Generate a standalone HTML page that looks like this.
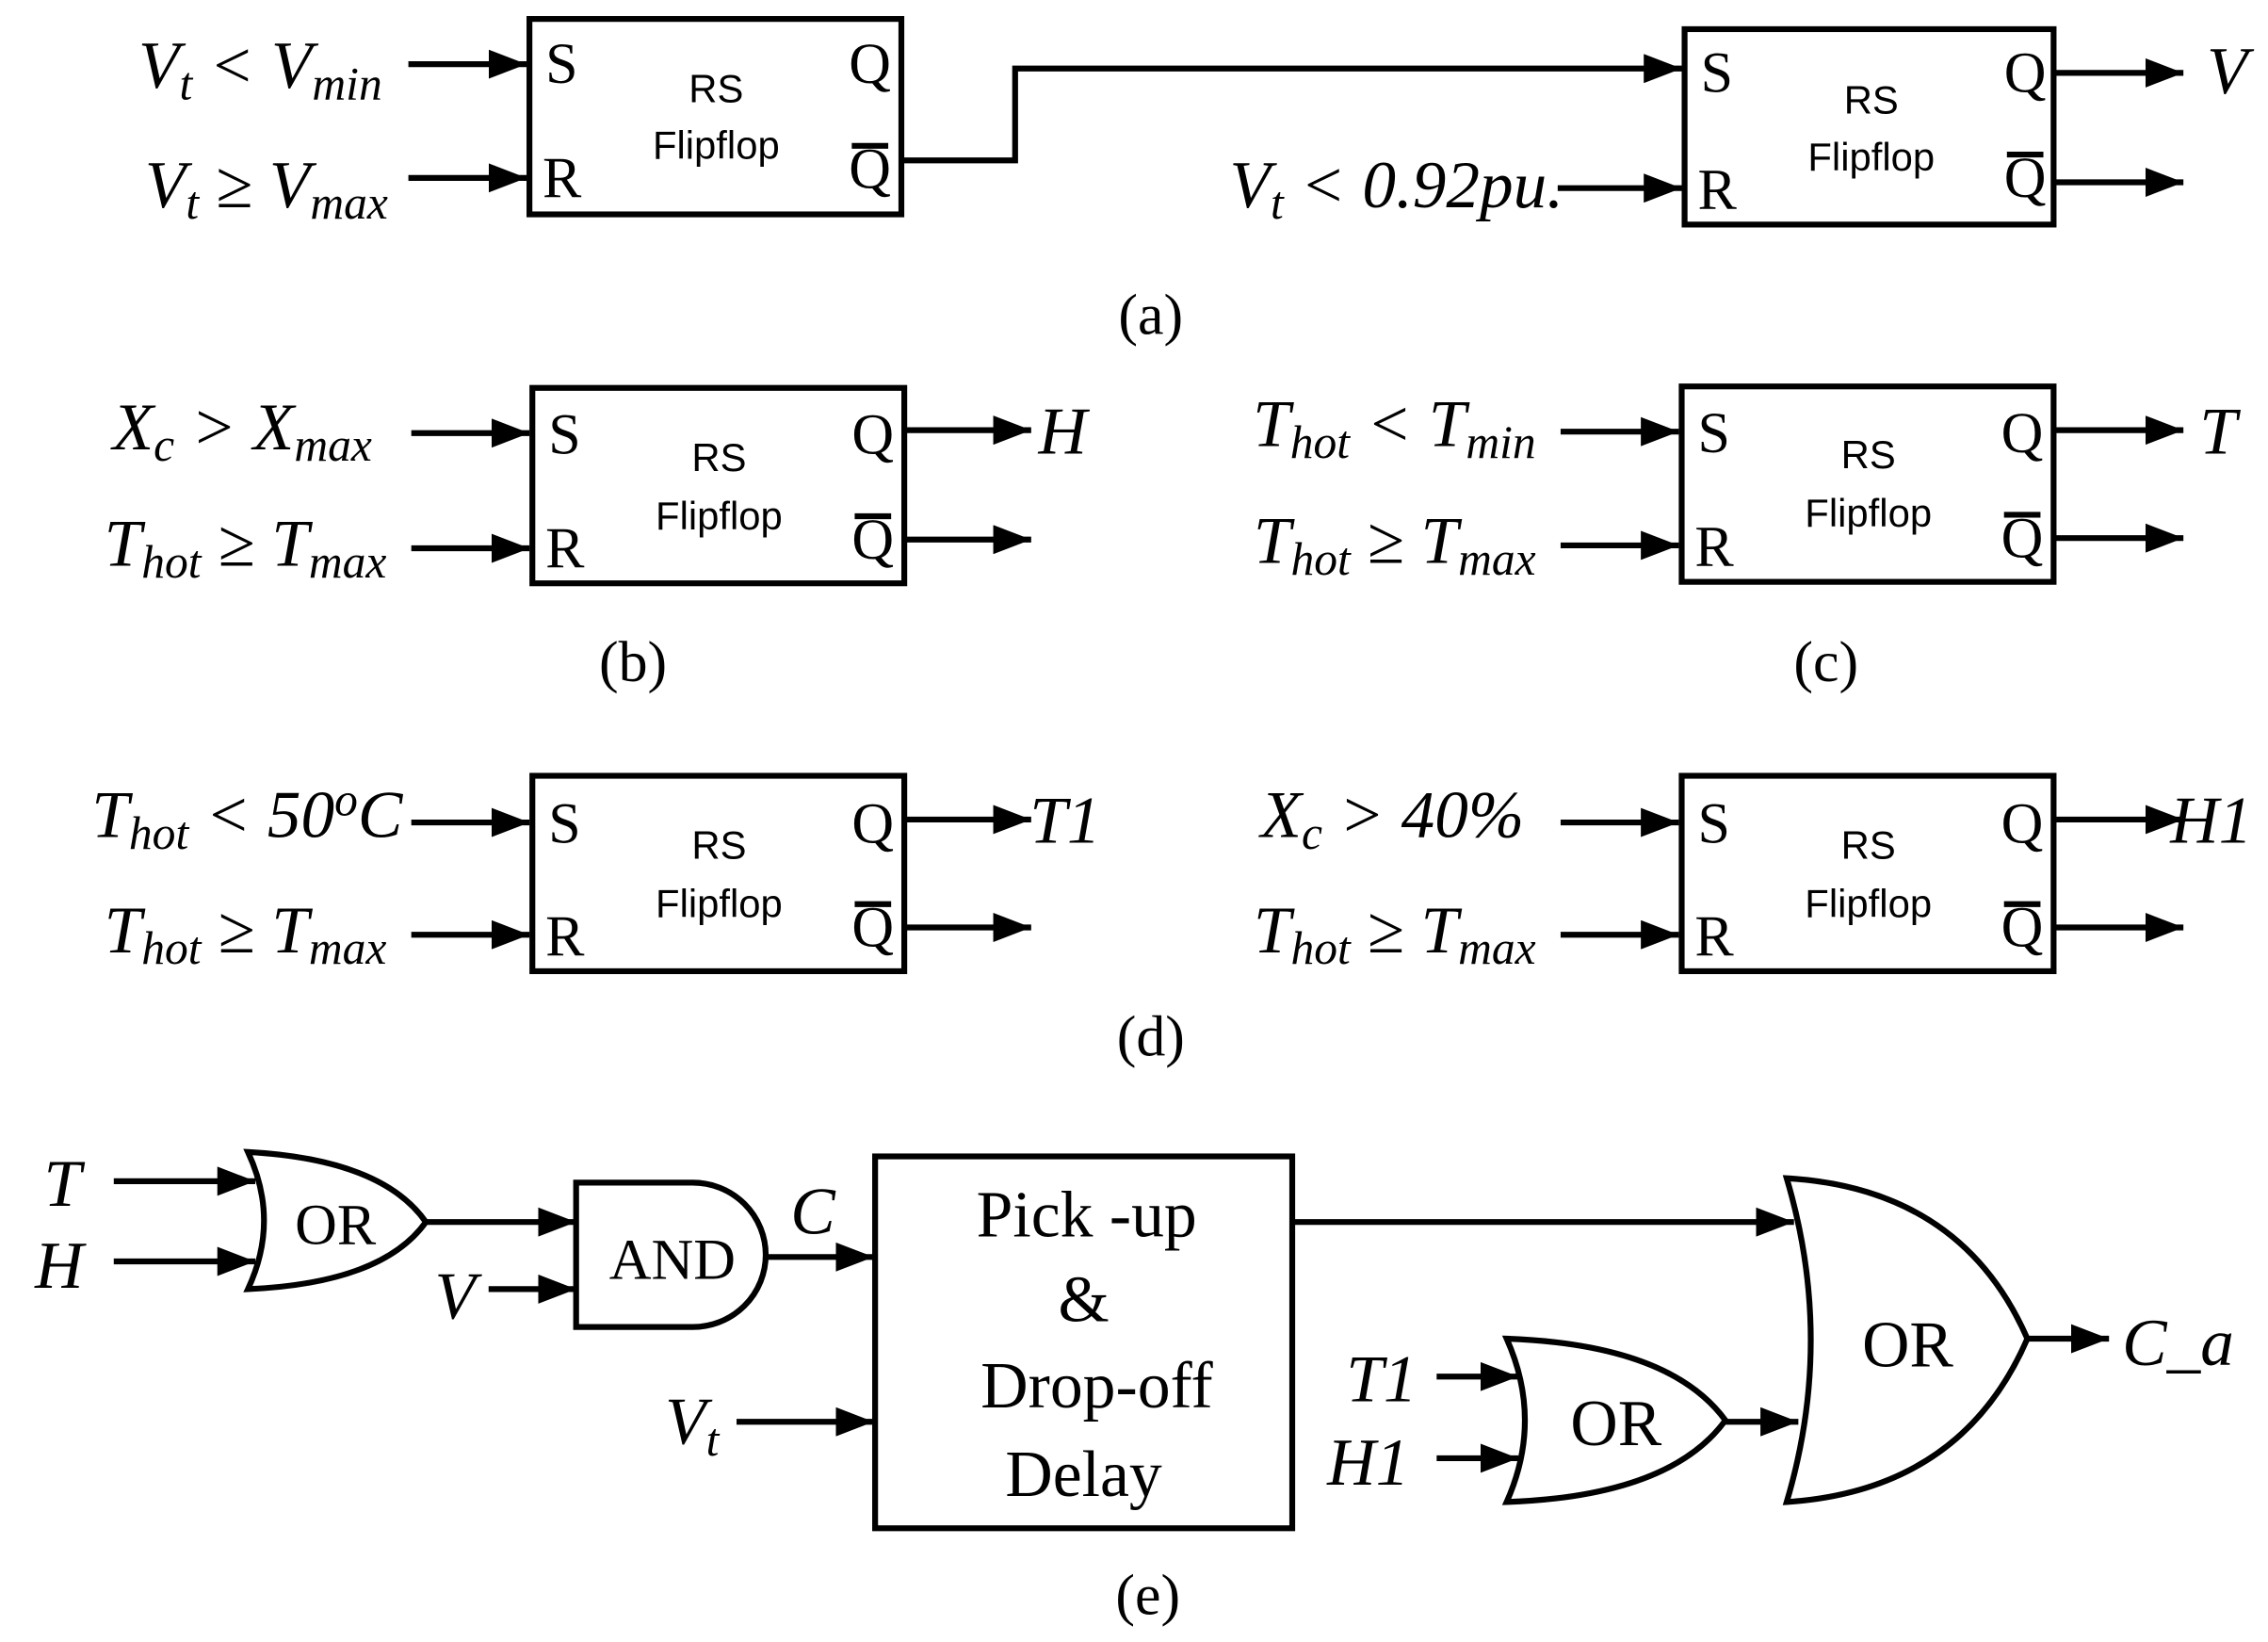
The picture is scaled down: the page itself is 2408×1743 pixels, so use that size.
<!DOCTYPE html>
<html><head><meta charset="utf-8"><style>
html,body{margin:0;padding:0;background:#fff;}
svg{display:block;}
.it{font-family:"Liberation Serif",serif;font-style:italic;font-size:46px;}
.sb{font-size:32px;}
.rm{font-family:"Liberation Serif",serif;font-size:40px;}
.ss{font-family:"Liberation Sans",sans-serif;font-size:27px;}
.bx{fill:none;stroke:#000;stroke-width:4;}
.ln{stroke:#000;stroke-width:4;fill:none;}
</style></head><body>
<svg width="2408" height="1743" viewBox="0 0 1555 1126" preserveAspectRatio="none" xmlns="http://www.w3.org/2000/svg">
<defs>
<marker id="a" markerWidth="26" markerHeight="20" refX="26" refY="10" orient="auto" markerUnits="userSpaceOnUse"><path d="M0,0 L26,10 L0,20z"/></marker></defs>

<!-- (a) -->
<rect class="bx" x="363" y="13" width="255" height="134"/>
<text class="rm" x="374" y="57">S</text><text class="rm" x="372" y="135">R</text>
<text class="rm" x="582" y="57">Q</text><text class="rm" x="582" y="129">Q</text><line class="ln" x1="584" y1="100" x2="609" y2="100" stroke-width="2"/>
<text class="ss" x="491" y="70" text-anchor="middle">RS</text><text class="ss" x="491" y="109" text-anchor="middle">Flipflop</text>
<line class="ln" x1="280" y1="44" x2="361" y2="44" marker-end="url(#a)"/>
<line class="ln" x1="280" y1="122" x2="361" y2="122" marker-end="url(#a)"/>
<text class="it" x="262" y="60" text-anchor="end">V<tspan class="sb" dy="8">t</tspan><tspan dy="-8"> &lt; V</tspan><tspan class="sb" dy="8">min</tspan></text>
<text class="it" x="266" y="142" text-anchor="end">V<tspan class="sb" dy="8">t</tspan><tspan dy="-8"> ≥ V</tspan><tspan class="sb" dy="8">max</tspan></text>
<polyline class="ln" points="618,110 696,110 696,47 1153,47" marker-end="url(#a)"/>
<rect class="bx" x="1155" y="20" width="253" height="134"/>
<text class="rm" x="1166" y="63">S</text><text class="rm" x="1164" y="143">R</text>
<text class="rm" x="1374" y="63">Q</text><text class="rm" x="1374" y="135">Q</text><line class="ln" x1="1376" y1="106" x2="1401" y2="106" stroke-width="2"/>
<text class="ss" x="1283" y="78" text-anchor="middle">RS</text><text class="ss" x="1283" y="117" text-anchor="middle">Flipflop</text>
<line class="ln" x1="1408" y1="50" x2="1497" y2="50" marker-end="url(#a)"/>
<line class="ln" x1="1408" y1="125" x2="1497" y2="125" marker-end="url(#a)"/>
<text class="it" x="1513" y="64">V</text>
<line class="ln" x1="1068" y1="129" x2="1153" y2="129" marker-end="url(#a)"/>
<text class="it" x="1072" y="142" text-anchor="end">V<tspan class="sb" dy="8">t</tspan><tspan dy="-8"> &lt; 0.92pu.</tspan></text>
<text class="rm" x="789" y="229" text-anchor="middle">(a)</text>

<!-- (b) -->
<rect class="bx" x="365" y="266" width="255" height="134"/>
<text class="rm" x="376" y="311">S</text><text class="rm" x="374" y="389">R</text>
<text class="rm" x="584" y="311">Q</text><text class="rm" x="584" y="383">Q</text><line class="ln" x1="586" y1="354" x2="611" y2="354" stroke-width="2"/>
<text class="ss" x="493" y="323" text-anchor="middle">RS</text><text class="ss" x="493" y="363" text-anchor="middle">Flipflop</text>
<line class="ln" x1="282" y1="297" x2="363" y2="297" marker-end="url(#a)"/>
<line class="ln" x1="282" y1="376" x2="363" y2="376" marker-end="url(#a)"/>
<line class="ln" x1="620" y1="295" x2="707" y2="295" marker-end="url(#a)"/>
<line class="ln" x1="620" y1="370" x2="707" y2="370" marker-end="url(#a)"/>
<text class="it" x="712" y="311">H</text>
<text class="it" x="255" y="308" text-anchor="end">X<tspan class="sb" dy="8">c</tspan><tspan dy="-8"> &gt; X</tspan><tspan class="sb" dy="8">max</tspan></text>
<text class="it" x="265" y="388" text-anchor="end">T<tspan class="sb" dy="8">hot</tspan><tspan dy="-8"> ≥ T</tspan><tspan class="sb" dy="8">max</tspan></text>
<text class="rm" x="434" y="467" text-anchor="middle">(b)</text>

<!-- (c) -->
<rect class="bx" x="1153" y="265" width="255" height="134"/>
<text class="rm" x="1164" y="310">S</text><text class="rm" x="1162" y="388">R</text>
<text class="rm" x="1372" y="310">Q</text><text class="rm" x="1372" y="382">Q</text><line class="ln" x1="1374" y1="353" x2="1399" y2="353" stroke-width="2"/>
<text class="ss" x="1281" y="321" text-anchor="middle">RS</text><text class="ss" x="1281" y="361" text-anchor="middle">Flipflop</text>
<line class="ln" x1="1070" y1="296" x2="1151" y2="296" marker-end="url(#a)"/>
<line class="ln" x1="1070" y1="374" x2="1151" y2="374" marker-end="url(#a)"/>
<line class="ln" x1="1408" y1="295" x2="1497" y2="295" marker-end="url(#a)"/>
<line class="ln" x1="1408" y1="369" x2="1497" y2="369" marker-end="url(#a)"/>
<text class="it" x="1508" y="311">T</text>
<text class="it" x="1053" y="306" text-anchor="end">T<tspan class="sb" dy="8">hot</tspan><tspan dy="-8"> &lt; T</tspan><tspan class="sb" dy="8">min</tspan></text>
<text class="it" x="1053" y="386" text-anchor="end">T<tspan class="sb" dy="8">hot</tspan><tspan dy="-8"> ≥ T</tspan><tspan class="sb" dy="8">max</tspan></text>
<text class="rm" x="1252" y="467" text-anchor="middle">(c)</text>

<!-- (d) left -->
<rect class="bx" x="365" y="532" width="255" height="134"/>
<text class="rm" x="376" y="578">S</text><text class="rm" x="374" y="655">R</text>
<text class="rm" x="584" y="578">Q</text><text class="rm" x="584" y="649">Q</text><line class="ln" x1="586" y1="620" x2="611" y2="620" stroke-width="2"/>
<text class="ss" x="493" y="589" text-anchor="middle">RS</text><text class="ss" x="493" y="629" text-anchor="middle">Flipflop</text>
<line class="ln" x1="282" y1="564" x2="363" y2="564" marker-end="url(#a)"/>
<line class="ln" x1="282" y1="641" x2="363" y2="641" marker-end="url(#a)"/>
<line class="ln" x1="620" y1="562" x2="707" y2="562" marker-end="url(#a)"/>
<line class="ln" x1="620" y1="636" x2="707" y2="636" marker-end="url(#a)"/>
<text class="it" x="706" y="578">T1</text>
<text class="it" x="276" y="574" text-anchor="end">T<tspan class="sb" dy="8">hot</tspan><tspan dy="-8"> &lt; 50</tspan><tspan class="sb" dy="-15">o</tspan><tspan dy="15">C</tspan></text>
<text class="it" x="265" y="653" text-anchor="end">T<tspan class="sb" dy="8">hot</tspan><tspan dy="-8"> ≥ T</tspan><tspan class="sb" dy="8">max</tspan></text>

<!-- (d) right -->
<rect class="bx" x="1153" y="532" width="255" height="134"/>
<text class="rm" x="1164" y="578">S</text><text class="rm" x="1162" y="655">R</text>
<text class="rm" x="1372" y="578">Q</text><text class="rm" x="1372" y="649">Q</text><line class="ln" x1="1374" y1="620" x2="1399" y2="620" stroke-width="2"/>
<text class="ss" x="1281" y="589" text-anchor="middle">RS</text><text class="ss" x="1281" y="629" text-anchor="middle">Flipflop</text>
<line class="ln" x1="1070" y1="564" x2="1151" y2="564" marker-end="url(#a)"/>
<line class="ln" x1="1070" y1="641" x2="1151" y2="641" marker-end="url(#a)"/>
<line class="ln" x1="1408" y1="562" x2="1497" y2="562" marker-end="url(#a)"/>
<line class="ln" x1="1408" y1="636" x2="1497" y2="636" marker-end="url(#a)"/>
<text class="it" x="1488" y="578">H1</text>
<text class="it" x="1045" y="574" text-anchor="end">X<tspan class="sb" dy="8">c</tspan><tspan dy="-8"> &gt; 40%</tspan></text>
<text class="it" x="1053" y="653" text-anchor="end">T<tspan class="sb" dy="8">hot</tspan><tspan dy="-8"> ≥ T</tspan><tspan class="sb" dy="8">max</tspan></text>
<text class="rm" x="789" y="724" text-anchor="middle">(d)</text>

<!-- (e) -->
<path class="ln" d="M170,790 Q262,795 292,838 Q262,880 170,884 Q192,837 170,790 Z"/>
<text class="rm" x="230" y="853" text-anchor="middle">OR</text>
<line class="ln" x1="78" y1="810" x2="175" y2="810" marker-end="url(#a)"/>
<line class="ln" x1="78" y1="865" x2="175" y2="865" marker-end="url(#a)"/>
<text class="it" x="30" y="827">T</text><text class="it" x="24" y="883">H</text>
<line class="ln" x1="292" y1="838" x2="395" y2="838" marker-end="url(#a)"/>
<path class="ln" d="M395,811 L475,811 A50,49.5 0 0 1 475,910 L395,910 Z"/>
<text class="rm" x="461" y="877" text-anchor="middle">AND</text>
<line class="ln" x1="335" y1="884" x2="395" y2="884" marker-end="url(#a)"/>
<text class="it" x="298" y="904">V</text>
<line class="ln" x1="525" y1="862" x2="599" y2="862" marker-end="url(#a)"/>
<text class="it" x="542" y="846">C</text>
<rect class="bx" x="600" y="793" width="286" height="255"/>
<g class="rm" style="font-size:45px" text-anchor="middle">
<text x="745" y="848">Pick -up</text><text x="743" y="906">&amp;</text><text x="752" y="965">Drop-off</text><text x="743" y="1026">Delay</text></g>
<line class="ln" x1="505" y1="975" x2="599" y2="975" marker-end="url(#a)"/>
<text class="it" x="456" y="990">V<tspan class="sb" dy="8">t</tspan></text>
<line class="ln" x1="886" y1="838" x2="1230" y2="838" marker-end="url(#a)"/>
<path class="ln" d="M1225,808 Q1345,815 1390,918 Q1345,1022 1225,1030 Q1258,919 1225,808 Z"/>
<text class="rm" x="1308" y="937" text-anchor="middle" style="font-size:45px">OR</text>
<line class="ln" x1="1390" y1="918" x2="1446" y2="918" marker-end="url(#a)"/>
<text class="it" x="1455" y="936">C_a</text>
<path class="ln" d="M1033,918 Q1145,922 1183,974 Q1145,1026 1033,1030 Q1058,974 1033,918 Z"/>
<text class="rm" x="1108" y="991" text-anchor="middle" style="font-size:45px">OR</text>
<line class="ln" x1="985" y1="944" x2="1041" y2="944" marker-end="url(#a)"/>
<line class="ln" x1="985" y1="1000" x2="1041" y2="1000" marker-end="url(#a)"/>
<text class="it" x="923" y="961">T1</text><text class="it" x="910" y="1018">H1</text>
<line class="ln" x1="1183" y1="975" x2="1233" y2="975" marker-end="url(#a)"/>
<text class="rm" x="787" y="1107" text-anchor="middle">(e)</text>
</svg>
</body></html>
